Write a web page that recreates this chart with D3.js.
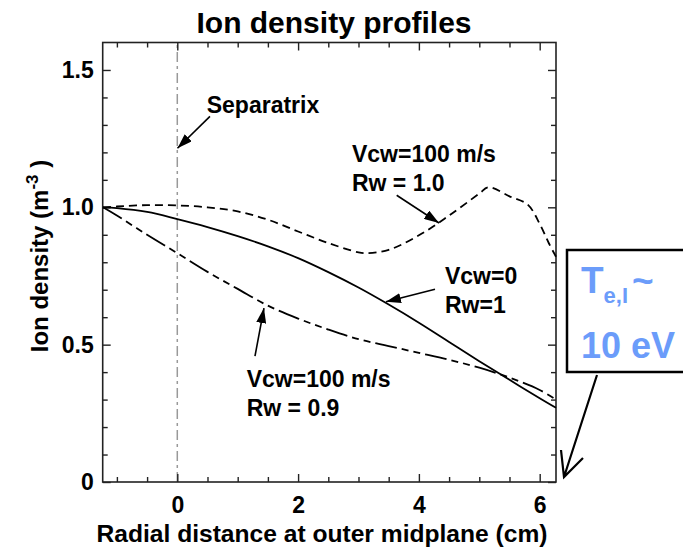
<!DOCTYPE html>
<html>
<head>
<meta charset="utf-8">
<script src="https://cdn.jsdelivr.net/npm/d3@7"></script>
<style>
body { margin: 0; background: #fff; }
text { font-family: "Liberation Sans", Arial, Helvetica, sans-serif; font-weight: bold; }
</style>
</head>
<body>
<svg id="chart"></svg>
<script>
// profile data (radius in cm, density normalised)
var radius = [-1.23, -1, -0.5, 0, 0.5, 1, 1.5, 2, 2.5, 3, 3.5, 4, 4.5, 5, 5.5, 6, 6.27];
var densNoWall = [1.0, 0.997, 0.983, 0.957, 0.928, 0.895, 0.858, 0.815, 0.764, 0.708, 0.646, 0.58, 0.51, 0.44, 0.372, 0.305, 0.27];
var densRw09 = [1.0, 0.97, 0.9, 0.833, 0.765, 0.703, 0.642, 0.595, 0.555, 0.52, 0.495, 0.47, 0.445, 0.416, 0.38, 0.335, 0.3];
var radiusRw10 = [-1.23, -1, -0.5, 0, 0.5, 1, 1.5, 2, 2.5, 3, 3.15, 3.5, 4, 4.5, 5, 5.15, 5.5, 5.8, 6, 6.15, 6.27];
var densRw10 = [1.0, 1.003, 1.008, 1.007, 1.0, 0.985, 0.955, 0.912, 0.87, 0.836, 0.833, 0.845, 0.898, 0.97, 1.05, 1.073, 1.04, 1.01, 0.94, 0.87, 0.82];

var xTicks = [0, 2, 4, 6];
var xTickLabels = ["0", "2", "4", "6"];
var yTicks = [0, 0.5, 1.0, 1.5];
var yTickLabels = ["0", "0.5", "1.0", "1.5"];

var width = 683,
    height = 552;
var plotL = 102.7, plotR = 556, plotT = 42.5, plotB = 482;

var svg = d3.select("svg#chart")
    .attr("width", width)
    .attr("height", height);

var x = d3.scaleLinear().domain([-1.235, 6.27]).range([plotL, plotR]);
var y = d3.scaleLinear().domain([0, 1.6]).range([plotB, plotT]);

var defs = svg.append("defs");
defs.append("marker")
    .attr("id", "head")
    .attr("viewBox", "0 0 10 10")
    .attr("refX", 10)
    .attr("refY", 5)
    .attr("markerWidth", 15)
    .attr("markerHeight", 10)
    .attr("markerUnits", "userSpaceOnUse")
    .attr("preserveAspectRatio", "none")
    .attr("orient", "auto")
    .append("path")
    .attr("d", "M0,0L10,5L0,10z")
    .attr("fill", "#000");

// separatrix
svg.append("line")
    .attr("x1", x(0)).attr("x2", x(0))
    .attr("y1", y(0)).attr("y2", y(1.6))
    .attr("stroke", "#999")
    .attr("stroke-width", 1.5)
    .attr("stroke-dasharray", "10,4,3,4");

// ticks
var xMinor = d3.range(-2, 13).map(function(i){ return i / 2; }).filter(function(v){ return xTicks.indexOf(v) < 0; });
var yMinor = d3.range(1, 16).map(function(i){ return i / 10; }).filter(function(v){ return [0.5, 1.0, 1.5].indexOf(v) < 0; });

function tickAxis(axis, scale, vals, size, labels) {
    var a = axis(scale).tickValues(vals).tickSizeInner(-size).tickSizeOuter(0);
    if (labels) a.tickFormat(function(d, i){ return labels[i]; });
    else a.tickFormat("");
    return a;
}

svg.append("g").attr("transform", "translate(0," + plotB + ")")
    .call(tickAxis(d3.axisBottom, x, xTicks, 8, xTickLabels).tickPadding(15));
svg.append("g").attr("transform", "translate(0," + plotB + ")")
    .call(tickAxis(d3.axisBottom, x, xMinor, 5));
svg.append("g").attr("transform", "translate(0," + plotT + ")")
    .call(tickAxis(d3.axisTop, x, xTicks, 8));
svg.append("g").attr("transform", "translate(0," + plotT + ")")
    .call(tickAxis(d3.axisTop, x, xMinor, 5));

svg.append("g").attr("transform", "translate(" + plotL + ",0)")
    .call(tickAxis(d3.axisLeft, y, yTicks, 8, yTickLabels).tickPadding(9));
svg.append("g").attr("transform", "translate(" + plotL + ",0)")
    .call(tickAxis(d3.axisLeft, y, yMinor, 5));
svg.append("g").attr("transform", "translate(" + plotR + ",0)")
    .call(tickAxis(d3.axisRight, y, yTicks, 8));
svg.append("g").attr("transform", "translate(" + plotR + ",0)")
    .call(tickAxis(d3.axisRight, y, yMinor, 5));

svg.selectAll(".domain").remove();
svg.selectAll(".tick line").attr("stroke", "#222").attr("stroke-width", 1.4);
svg.selectAll(".tick text")
    .attr("fill", "#000")
    .style("font-size", "23px")
    .style("font-family", '"Liberation Sans", Arial, sans-serif')
    .style("font-weight", "bold");

svg.append("rect")
    .attr("x", plotL).attr("y", plotT)
    .attr("width", plotR - plotL).attr("height", plotB - plotT)
    .attr("fill", "none")
    .attr("stroke", "#222")
    .attr("stroke-width", 1.6);

// curves
var line = d3.line()
    .x(function(d){ return x(d[0]); })
    .y(function(d){ return y(d[1]); })
    .curve(d3.curveCatmullRom.alpha(0.5));

var series = [
    {xs: radius, ys: densNoWall, dash: null},
    {xs: radius, ys: densRw09, dash: "22,5,7,5,7,5"},
    {xs: radiusRw10, ys: densRw10, dash: "8,5"}
];

svg.selectAll("path.curve")
    .data(series)
    .enter()
    .append("path")
    .attr("class", "curve")
    .attr("d", function(s){ return line(d3.zip(s.xs, s.ys)); })
    .attr("fill", "none")
    .attr("stroke", "#000")
    .attr("stroke-width", 1.8)
    .attr("stroke-dasharray", function(s){ return s.dash; });

// annotations (data coordinates)
var notes = [
    {lines: ["Separatrix"], tx: 0.487, ty: 1.343, from: [0.541, 1.331], to: [0.003, 1.215]},
    {lines: ["Vcw=100 m/s", "Rw = 1.0"], tx: 2.892, ty: 1.165, from: [3.632, 1.044], to: [4.333, 0.943]},
    {lines: ["Vcw=0", "Rw=1"], tx: 4.432, ty: 0.7225, from: [4.267, 0.702], to: [3.455, 0.656]},
    {lines: ["Vcw=100 m/s", "Rw = 0.9"], tx: 1.149, ty: 0.3465, from: [1.286, 0.458], to: [1.435, 0.633]}
];

var note = svg.selectAll("g.note")
    .data(notes)
    .enter()
    .append("g")
    .attr("class", "note");

note.append("text")
    .attr("x", function(d){ return x(d.tx); })
    .attr("y", function(d){ return y(d.ty); })
    .style("font-size", "23px")
    .selectAll("tspan")
    .data(function(d){ return d.lines.map(function(t){ return {t: t, x: x(d.tx)}; }); })
    .enter()
    .append("tspan")
    .attr("x", function(d){ return d.x; })
    .attr("dy", function(d, i){ return i ? 29 : 0; })
    .text(function(d){ return d.t; });

note.append("line")
    .attr("x1", function(d){ return x(d.from[0]); })
    .attr("y1", function(d){ return y(d.from[1]); })
    .attr("x2", function(d){ return x(d.to[0]); })
    .attr("y2", function(d){ return y(d.to[1]); })
    .attr("stroke", "#000")
    .attr("stroke-width", 1.6)
    .attr("marker-end", "url(#head)");

// titles
svg.append("text")
    .attr("x", 334)
    .attr("y", 33)
    .attr("text-anchor", "middle")
    .style("font-size", "30px")
    .text("Ion density profiles");

svg.append("text")
    .attr("x", 322)
    .attr("y", 542)
    .attr("text-anchor", "middle")
    .style("font-size", "24.6px")
    .text("Radial distance at outer midplane (cm)");

var ylab = svg.append("text")
    .attr("transform", "translate(48,256) rotate(-90)")
    .attr("text-anchor", "middle")
    .style("font-size", "24px");
ylab.append("tspan").text("Ion density (m");
ylab.append("tspan").attr("dy", -10).style("font-size", "17px").text("-3");
ylab.append("tspan").attr("dy", 10).text("  )");

// temperature box
var blue = "#6b9cfa";
svg.append("rect")
    .attr("x", 567).attr("y", 250)
    .attr("width", 140).attr("height", 122)
    .attr("fill", "#fff")
    .attr("stroke", "#000")
    .attr("stroke-width", 2.5);

var t1 = svg.append("text").attr("x", 581).attr("y", 293).attr("fill", blue).style("font-size", "37px");
t1.append("tspan").text("T");
t1.append("tspan").attr("dy", 10).style("font-size", "22px").text("e,I");
t1.append("tspan").attr("dy", -10).attr("dx", 4).style("font-size", "37px").text("~");

svg.append("text")
    .attr("x", 581).attr("y", 358)
    .attr("fill", blue)
    .style("font-size", "36px")
    .text("10 eV");

svg.append("path")
    .attr("d", "M597,375L564,477M561,450L564,477L583,458")
    .attr("fill", "none")
    .attr("stroke", "#000")
    .attr("stroke-width", 2.2);
</script>
</body>
</html>
